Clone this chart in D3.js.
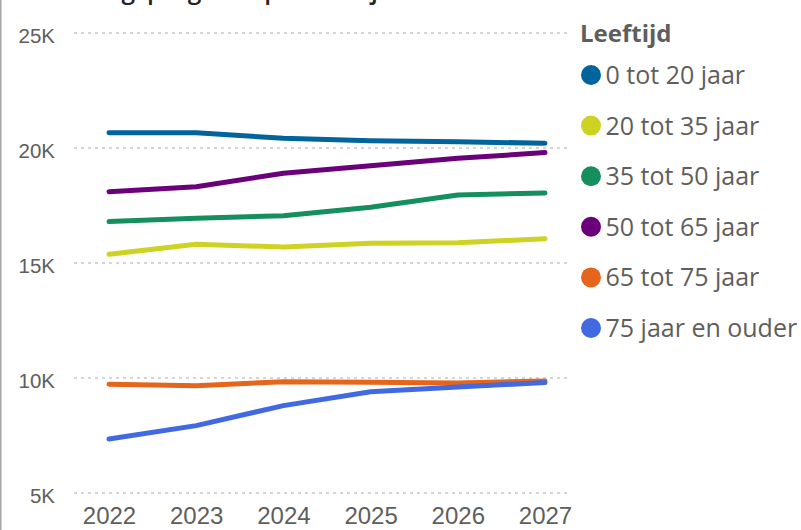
<!DOCTYPE html>
<html>
<head>
<meta charset="utf-8">
<script src="https://cdn.jsdelivr.net/npm/d3@7"></script>
<style>
    html, body { margin: 0; padding: 0; background: #fff; }
    svg { display: block; font-family: "Open Sans", "Noto Sans", sans-serif; }
</style>
</head>
<body>
<svg id="chart" width="801" height="530"></svg>
<script>
// data
const years = [2022, 2023, 2024, 2025, 2026, 2027];
const groups = ["0 tot 20 jaar", "20 tot 35 jaar", "35 tot 50 jaar", "50 tot 65 jaar", "65 tot 75 jaar", "75 jaar en ouder"];
const colors = ["#01649C", "#CED223", "#148F5D", "#6A007A", "#E4651B", "#4169E1"];

const age0to20 = [20665, 20660, 20420, 20317, 20274, 20204];
const age20to35 = [15378, 15813, 15696, 15855, 15883, 16057];
const age35to50 = [16800, 16943, 17057, 17420, 17957, 18043];
const age50to65 = [18100, 18317, 18900, 19230, 19550, 19800];
const age65to75 = [9726, 9667, 9840, 9812, 9783, 9870];
const age75plus = [7348, 7930, 8800, 9406, 9609, 9800];

const yTicks = [5000, 10000, 15000, 20000, 25000];
const chartTitle = "Bevolkingsprognose per leeftijd";
const legendTitle = "Leeftijd";

const seriesValues = [age0to20, age20to35, age35to50, age50to65, age65to75, age75plus];
const series = groups.map((name, i) => ({
    name: name,
    color: colors[i],
    values: years.map((y, j) => ({ year: y, value: seriesValues[i][j] }))
}));

const svg = d3.select("#chart");
const textColor = "#605E5C";

// scales
const x = d3.scaleLinear().domain([2022, 2027]).range([109, 545]);
const y = d3.scaleLinear().domain([5000, 25000]).range([493, 33]);

// left frame edge
svg.append("line")
    .attr("x1", 0.75).attr("x2", 0.75)
    .attr("y1", 0).attr("y2", 530)
    .attr("stroke", "#a6a6a6")
    .attr("stroke-width", 1.5);

// title, mostly cut off at the top (as in the reference)
svg.append("text")
    .attr("x", 20)
    .attr("y", -1.5)
    .attr("font-size", 24.5)
    .attr("font-weight", 600)
    .attr("fill", "#252423")
    .text(chartTitle);

// gridlines
svg.append("g")
    .attr("class", "grid")
    .selectAll("line")
    .data(yTicks)
    .enter().append("line")
    .attr("x1", 74).attr("x2", 570)
    .attr("y1", d => y(d)).attr("y2", d => y(d))
    .attr("stroke", "#c8c8c8")
    .attr("stroke-width", 1.3)
    .attr("stroke-dasharray", "3,4");

// y axis
const yAxis = svg.append("g")
    .attr("transform", "translate(55,2)")
    .call(d3.axisLeft(y).tickValues(yTicks).tickSize(0).tickPadding(0).tickFormat(d => d / 1000 + "K"));
yAxis.select(".domain").remove();
yAxis.selectAll("text")
    .attr("font-family", null)
    .attr("font-size", 20.5)
    .attr("fill", textColor)
    .attr("dy", "0.36em");

// x axis
const xAxis = svg.append("g")
    .attr("transform", "translate(0,507)")
    .call(d3.axisBottom(x).tickValues(years).tickSize(0).tickPadding(0).tickFormat(d3.format("d")));
xAxis.select(".domain").remove();
xAxis.selectAll("text")
    .attr("font-family", null)
    .attr("font-size", 24)
    .attr("fill", textColor)
    .attr("dy", "0.72em");

// lines
const line = d3.line()
    .x(d => x(d.year))
    .y(d => y(d.value));

svg.append("g")
    .attr("class", "lines")
    .selectAll("path")
    .data(series)
    .enter().append("path")
    .attr("d", d => line(d.values))
    .attr("fill", "none")
    .attr("stroke", d => d.color)
    .attr("stroke-width", 5)
    .attr("stroke-linecap", "round")
    .attr("stroke-linejoin", "round");

// legend
const legend = svg.append("g").attr("transform", "translate(580,0)");
legend.append("text")
    .attr("x", 0)
    .attr("y", 33)
    .attr("dy", "0.36em")
    .attr("font-size", 24)
    .attr("font-weight", 700)
    .attr("fill", textColor)
    .text(legendTitle);

const item = legend.selectAll("g.item")
    .data(series)
    .enter().append("g")
    .attr("class", "item")
    .attr("transform", (d, i) => `translate(0,${75 + i * 50.6})`);

item.append("circle")
    .attr("cx", 11)
    .attr("cy", 0)
    .attr("r", 10)
    .attr("fill", d => d.color);

item.append("text")
    .attr("x", 25.5)
    .attr("y", 0)
    .attr("dy", "0.36em")
    .attr("font-size", 25)
    .attr("fill", textColor)
    .text(d => d.name);
</script>
</body>
</html>
